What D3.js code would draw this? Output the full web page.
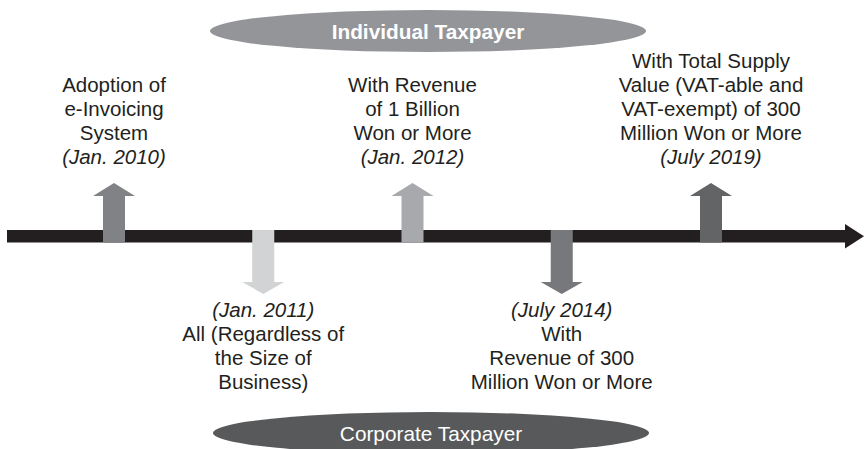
<!DOCTYPE html>
<html>
<head>
<meta charset="utf-8">
<script src="https://d3js.org/d3.v7.min.js"></script>
<style>
  body { margin: 0; background: #fff; }
  svg { display: block; }
</style>
</head>
<body>
<svg id="timeline" width="864" height="449"></svg>
<script>
// milestones of e-invoicing, in time order
var dates = ["Jan. 2010", "Jan. 2011", "Jan. 2012", "July 2014", "July 2019"];
var sides = ["up", "down", "up", "down", "up"];
var labels = [
  ["Adoption of", "e-Invoicing", "System"],
  ["All (Regardless of", "the Size of", "Business)"],
  ["With Revenue", "of 1 Billion", "Won or More"],
  ["With", "Revenue of 300", "Million Won or More"],
  ["With Total Supply", "Value (VAT-able and", "VAT-exempt) of 300", "Million Won or More"]
];
var arrowColors = ["#808285", "#d1d3d4", "#a7a9ac", "#77787b", "#636466"];
var groups = ["Individual Taxpayer", "Corporate Taxpayer"];
var groupColors = ["#939598", "#58595b"];

var svg = d3.select("#timeline"),
    width = +svg.attr("width"),
    height = +svg.attr("height"),
    lineH = 24,
    barTop = 230, barBot = 242.5,
    font = "'Liberation Sans', Arial, sans-serif",
    x = d3.scalePoint().domain(dates).range([114, 711]);

var events = dates.map(function (d, i) {
  return { date: d, side: sides[i], lines: labels[i], color: arrowColors[i] };
});

// main time axis with arrow head
svg.append("rect")
    .attr("x", 7).attr("y", barTop)
    .attr("width", 839).attr("height", barBot - barTop)
    .attr("fill", "#231f20");
svg.append("path")
    .attr("d", "M845,224L864,236.2L845,248.5Z")
    .attr("fill", "#231f20");

// taxpayer ovals
var ovals = svg.selectAll(".oval")
    .data(groups)
  .enter().append("g")
    .attr("class", "oval")
    .attr("transform", function (d, i) { return "translate(" + (i ? 431 : 428) + "," + (i ? 433 : 31) + ")"; });
ovals.append("ellipse")
    .attr("rx", 218).attr("ry", 21)
    .attr("fill", function (d, i) { return groupColors[i]; });
ovals.append("text")
    .attr("y", 7.5)
    .attr("text-anchor", "middle")
    .attr("font-family", font)
    .attr("font-size", 20.8)
    .attr("font-weight", function (d, i) { return i ? "normal" : "bold"; })
    .attr("fill", "#fff")
    .text(function (d) { return d; });

function arrowPath(d) {
  var cx = x(d.date), sw = 11, hw = 21;
  if (d.side == "up") {
    return "M" + (cx - sw) + "," + barBot + "V196H" + (cx - hw) + "L" + cx + ",183L" + (cx + hw) + ",196H" + (cx + sw) + "V" + barBot + "Z";
  }
  return "M" + (cx - sw) + "," + barTop + "V282H" + (cx - hw) + "L" + cx + ",294L" + (cx + hw) + ",282H" + (cx + sw) + "V" + barTop + "Z";
}

var ev = svg.selectAll(".event")
    .data(events)
  .enter().append("g")
    .attr("class", "event");

ev.append("path")
    .attr("d", arrowPath)
    .attr("fill", function (d) { return d.color; });

ev.each(function (d) {
  var g = d3.select(this), cx = x(d.date), rows, y0;
  // up: text lines then date at bottom; down: date first then text
  if (d.side == "up") {
    rows = d.lines.map(function (t) { return { t: t, it: false }; });
    rows.push({ t: "(" + d.date + ")", it: true });
    y0 = 164 - (rows.length - 1) * lineH;
  } else {
    rows = [{ t: "(" + d.date + ")", it: true }].concat(d.lines.map(function (t) { return { t: t, it: false }; }));
    y0 = 317;
  }
  g.selectAll("text")
      .data(rows)
    .enter().append("text")
      .attr("x", cx)
      .attr("y", function (r, i) { return y0 + i * lineH; })
      .attr("text-anchor", "middle")
      .attr("font-family", font)
      .attr("font-size", 20.5)
      .attr("font-style", function (r) { return r.it ? "italic" : "normal"; })
      .attr("fill", "#231f20")
      .text(function (r) { return r.t; });
});
</script>
</body>
</html>
